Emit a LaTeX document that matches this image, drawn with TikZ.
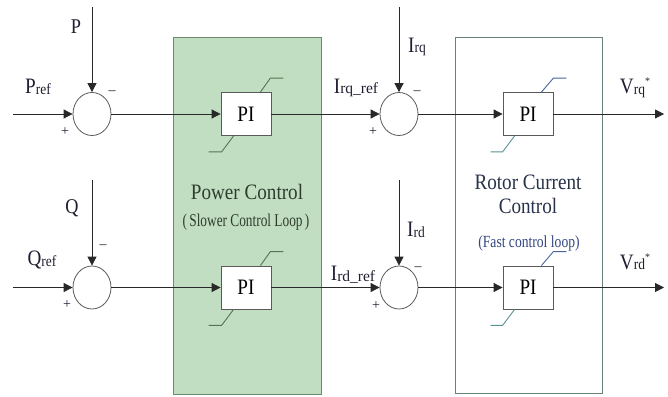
\documentclass[tikz,border=0pt]{standalone}
\usepackage{fontspec}
\setmainfont{Liberation Serif}
\usetikzlibrary{arrows.meta,shapes.geometric}
\definecolor{gfill}{RGB}{194,222,194}
\definecolor{gedge}{RGB}{110,135,110}
\definecolor{redge}{RGB}{105,130,115}
\definecolor{linec}{RGB}{40,40,40}
\definecolor{sumc}{RGB}{90,90,90}
\definecolor{pic}{RGB}{90,90,90}
\definecolor{satg}{RGB}{85,115,85}
\definecolor{satb}{RGB}{70,100,160}
\definecolor{satt}{RGB}{90,145,150}
\definecolor{labc}{RGB}{30,30,50}
\definecolor{pctext}{RGB}{45,60,45}
\definecolor{rctext}{RGB}{40,50,75}
\definecolor{fasttext}{RGB}{50,70,130}
\newcommand{\sq}[1]{\scalebox{0.87}[1]{#1}}
\newcommand{\bigf}{\fontsize{22}{22}\selectfont}
\newcommand{\subf}{\fontsize{15.5}{15.5}\selectfont}
\newcommand{\lb}[2]{\sq{{\bigf #1}\raisebox{-0.5pt}{\subf #2}}}
\newcommand{\lbw}[2]{\sq{{\bigf #1}\raisebox{-0.5pt}{\subf\scalebox{1.15}[1]{#2}}}}
\begin{document}
\begin{tikzpicture}[x=1pt,y=-1pt,
  sumj/.style={ellipse, draw=sumc, line width=0.8pt, minimum width=38pt, minimum height=43pt, inner sep=0pt},
  piblock/.style={rectangle, draw=pic, fill=white, line width=0.8pt, minimum width=50pt, minimum height=43pt, inner sep=0pt, font=\fontsize{22}{22}\selectfont},
  sig/.style={draw=linec, line width=0.8pt},
  arr/.style={sig, -{Triangle[length=9pt,width=9pt]}},
  lbl/.style={inner sep=0pt, text=labc},
  sgn/.style={inner sep=0pt, text=labc, font=\fontsize{14}{14}\selectfont},
  satgl/.style={draw=satg, line width=0.9pt},
  satbl/.style={draw=satb, line width=0.9pt},
  sattl/.style={draw=satt, line width=0.9pt}]
\useasboundingbox (0,0) rectangle (668,396);
\fill[white] (0,0) rectangle (668,396);
% boxes
\draw[draw=gedge, fill=gfill, line width=0.9pt] (173,37) rectangle (321,394);
\draw[draw=redge, line width=0.9pt] (455,37) rectangle (602,393);
% summing junctions
\node[sumj] (s1) at (92,114) {};
\node[sumj] (s2) at (399,114) {};
\node[sumj] (s3) at (92,287.5) {};
\node[sumj] (s4) at (399,287.5) {};
% PI blocks
\node[piblock] (p1) at (246,114) {\sq{PI}};
\node[piblock] (p2) at (246,287.5) {\sq{PI}};
\node[piblock] (p3) at (528,114) {\sq{PI}};
\node[piblock] (p4) at (528,287.5) {\sq{PI}};
% free ends
\coordinate (pin) at (13,114);
\coordinate (ptop) at (92,7);
\coordinate (qin) at (13,287.5);
\coordinate (qtop) at (92,180);
\coordinate (iqtop) at (399,7);
\coordinate (idtop) at (399,180);
\coordinate (vq) at (664,114);
\coordinate (vd) at (664,287.5);
% connectors
\draw[arr] (pin) -- (s1.west);
\draw[arr] (ptop) -- (s1.north);
\draw[arr] (s1.east) -- (p1.west);
\draw[arr] (p1.east) -- (s2.west);
\draw[arr] (iqtop) -- (s2.north);
\draw[arr] (s2.east) -- (p3.west);
\draw[arr] (p3.east) -- (vq);
\draw[arr] (qin) -- (s3.west);
\draw[arr] (qtop) -- (s3.north);
\draw[arr] (s3.east) -- (p2.west);
\draw[arr] (p2.east) -- (s4.west);
\draw[arr] (idtop) -- (s4.north);
\draw[arr] (s4.east) -- (p4.west);
\draw[arr] (p4.east) -- (vd);
% saturation marks
\draw[satgl] ([xshift=-11pt]p1.north east) -- ++(10,-14) -- ++(13,0);
\draw[satgl] ([xshift=13pt]p1.south west) -- ++(-12,16) -- ++(-13,0);
\draw[satgl] ([xshift=-11pt]p2.north east) -- ++(10,-14) -- ++(13,0);
\draw[satgl] ([xshift=13pt]p2.south west) -- ++(-12,16) -- ++(-13,0);
\draw[satbl] ([xshift=-12pt]p3.north east) -- ++(12,-14) -- ++(13,0);
\draw[sattl] ([xshift=12pt]p3.south west) -- ++(-12,16) -- ++(-12,0);
\draw[satbl] ([xshift=-12pt]p4.north east) -- ++(12,-14) -- ++(13,0);
\draw[sattl] ([xshift=12pt]p4.south west) -- ++(-12,16) -- ++(-12,0);
% block titles
\node[inner sep=0pt, text=pctext, font=\fontsize{22}{22}\selectfont] (pct) at (247,192) {\sq{Power Control}};
\node[inner sep=0pt, text=pctext, font=\fontsize{18}{18}\selectfont] (pcs) at (246,222) {\scalebox{0.74}[1]{(\,Slower Control Loop\,)}};
\node[inner sep=0pt, text=rctext, font=\fontsize{22}{22}\selectfont] (rct1) at (528,182) {\sq{Rotor Current}};
\node[inner sep=0pt, text=rctext, font=\fontsize{22}{22}\selectfont] (rct2) at (528,206) {\sq{Control}};
\node[inner sep=0pt, text=fasttext, font=\fontsize{17}{17}\selectfont] (rcs) at (529,243) {\scalebox{0.8}[1]{(Fast control loop)}};
% labels
\node[lbl, font=\fontsize{21}{21}\selectfont] (lP) at (76,27) {\sq{P}};
\node[lbl] (lPref) at (38,87) {\lb{P}{ref}};
\node[sgn] (m1) at (112,93) {–};
\node[sgn] (a1) at (65,132) {+};
\node[lbl, font=\fontsize{21}{21}\selectfont] (lQ) at (72,208) {\sq{Q}};
\node[lbl] (lQref) at (42,260) {\lb{Q}{ref}};
\node[sgn] (m3) at (103,247) {–};
\node[sgn] (a3) at (67,305) {+};
\node[lbl] (lIrq) at (417,47) {\lb{I}{rq}};
\node[lbl] (lIrqr) at (356,88) {\lbw{I}{rq\_ref}};
\node[sgn] (m2) at (417,93) {–};
\node[sgn] (a2) at (373,132) {+};
\node[lbl] (lIrd) at (416,230) {\lb{I}{rd}};
\node[lbl] (lIrdr) at (353,275) {\lbw{I}{rd\_ref}};
\node[sgn] (m4) at (418,269) {–};
\node[sgn] (a4) at (376,306) {+};
\node[lbl] (lVq) at (635,88) {\lb{V}{rq}\raisebox{9pt}{\fontsize{10}{10}\selectfont *}};
\node[lbl] (lVd) at (635,262) {\lb{V}{rd}\raisebox{9pt}{\fontsize{10}{10}\selectfont *}};
\end{tikzpicture}
\end{document}
